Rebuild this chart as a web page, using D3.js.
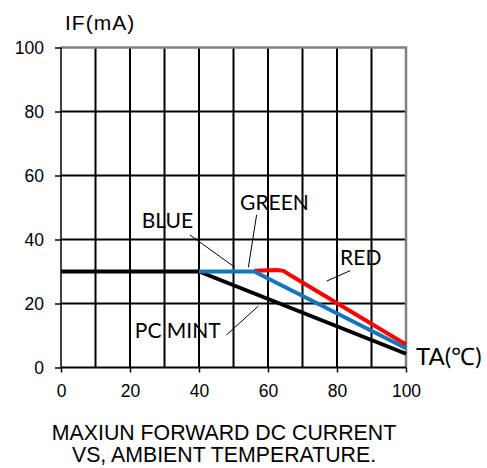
<!DOCTYPE html>
<html>
<head>
<meta charset="utf-8">
<script src="https://cdn.jsdelivr.net/npm/d3@7"></script>
<style>
  body { margin: 0; background: #fff; }
  svg { display: block; }
  .tick text { font-family: "Liberation Sans", Arial, sans-serif; font-size: 17.5px; fill: #000; }
  .lbl { font-family: Lato, "Open Sans", sans-serif; font-size: 21px; fill: #000; }
  .ttl { font-family: "Liberation Sans", Arial, sans-serif; font-size: 21.3px; fill: #000; }
</style>
</head>
<body>
<svg width="487" height="468"></svg>
<script>
  const xTicks = [0, 20, 40, 60, 80, 100];
  const yTicks = [0, 20, 40, 60, 80, 100];
  const xGrid = [10, 20, 30, 40, 50, 60, 70, 80, 90];
  const yGrid = [20, 40, 60, 80];

  // derating curves, [TA, IF]
  const pcMint = [[0, 30], [40, 30], [100, 4.3]];
  const red = [[56, 30.2], [62.5, 30.5], [64.5, 30.2], [66.5, 28.8], [100, 7.2]];
  const blue = [[40, 30], [56, 30], [100, 6]];

  // label text + leader lines in data units
  const labels = [
    { text: 'BLUE', at: [23.4, 43.6], line: [[37.4, 41.4], [50.4, 31.3]] },
    { text: 'GREEN', at: [51.9, 49.2], line: [[56.7, 47.7], [54.3, 31.3]] },
    { text: 'RED', at: [80.9, 32.0], line: [[83.8, 30.25], [77.0, 27.0]] },
    { text: 'PC MINT', at: [21.4, 9.2], line: [[48.0, 10.2], [57.2, 19.2]] }
  ];
  const titleLines = ['MAXIUN FORWARD DC CURRENT', 'VS, AMBIENT TEMPERATURE.'];

  const svg = d3.select('svg');

  const x = d3.scaleLinear().domain([0, 100]).range([61, 406]);
  const y = d3.scaleLinear().domain([0, 100]).range([367.5, 47.5]);

  const g = svg.append('g');

  // grid
  g.selectAll('.vg').data(xGrid).enter().append('line')
    .attr('x1', d => x(d)).attr('x2', d => x(d))
    .attr('y1', y(0)).attr('y2', y(100))
    .attr('stroke', '#000').attr('stroke-width', 2);
  g.selectAll('.hg').data(yGrid).enter().append('line')
    .attr('x1', x(0)).attr('x2', x(100))
    .attr('y1', d => y(d)).attr('y2', d => y(d))
    .attr('stroke', '#000').attr('stroke-width', 2);

  // gray top / right border
  g.append('path')
    .attr('d', `M${x(0)},${y(100)}H${x(100)}V${y(0)}`)
    .attr('fill', 'none').attr('stroke', '#808080').attr('stroke-width', 2.5);

  // axes
  const yAxisG = g.append('g')
    .attr('transform', `translate(${x(0)},0)`)
    .call(d3.axisLeft(y).tickValues(yTicks).tickSizeInner(6).tickSizeOuter(0).tickPadding(11));
  yAxisG.select('.domain').remove();
  yAxisG.selectAll('.tick line').attr('stroke', '#000').attr('stroke-width', 1.5);

  const xAxisG = g.append('g')
    .attr('transform', `translate(0,${y(0)})`)
    .call(d3.axisBottom(x).tickValues(xTicks).tickSizeInner(5).tickSizeOuter(0).tickPadding(12.5));
  xAxisG.select('.domain').remove();
  xAxisG.selectAll('.tick line').attr('stroke', '#000').attr('stroke-width', 1.5);

  g.append('line')
    .attr('x1', x(0)).attr('x2', x(0)).attr('y1', y(0)).attr('y2', y(100))
    .attr('stroke', '#000').attr('stroke-width', 1.5);
  g.append('line')
    .attr('x1', x(0)).attr('x2', x(100)).attr('y1', y(0)).attr('y2', y(0))
    .attr('stroke', '#000').attr('stroke-width', 2);

  // curves
  const line = d3.line().x(d => x(d[0])).y(d => y(d[1]));
  [[pcMint, '#000'], [red, '#ff0000'], [blue, '#1575bd']].forEach(([data, color]) => {
    g.append('path')
      .attr('d', line(data))
      .attr('fill', 'none')
      .attr('stroke', color)
      .attr('stroke-width', 4)
      .attr('stroke-linejoin', 'round');
  });

  // labels
  labels.forEach(l => {
    g.append('line')
      .attr('x1', x(l.line[0][0])).attr('y1', y(l.line[0][1]))
      .attr('x2', x(l.line[1][0])).attr('y2', y(l.line[1][1]))
      .attr('stroke', '#000').attr('stroke-width', 1);
    g.append('text')
      .attr('class', 'lbl')
      .attr('x', x(l.at[0])).attr('y', y(l.at[1]))
      .text(l.text);
  });

  g.append('text')
    .attr('class', 'lbl')
    .attr('x', x(102.9)).attr('y', y(0.8))
    .style('font-size', '24px')
    .text('TA(℃)');

  svg.append('text')
    .attr('x', 65).attr('y', 29.5)
    .style('font-family', '"Liberation Sans", Arial, sans-serif')
    .style('font-size', '21px')
    .style('letter-spacing', '1px')
    .text('IF(mA)');

  svg.selectAll('.ttl').data(titleLines).enter().append('text')
    .attr('class', 'ttl')
    .attr('x', 224)
    .attr('y', (d, i) => 440 + i * 22)
    .attr('text-anchor', 'middle')
    .text(d => d);
</script>
</body>
</html>
